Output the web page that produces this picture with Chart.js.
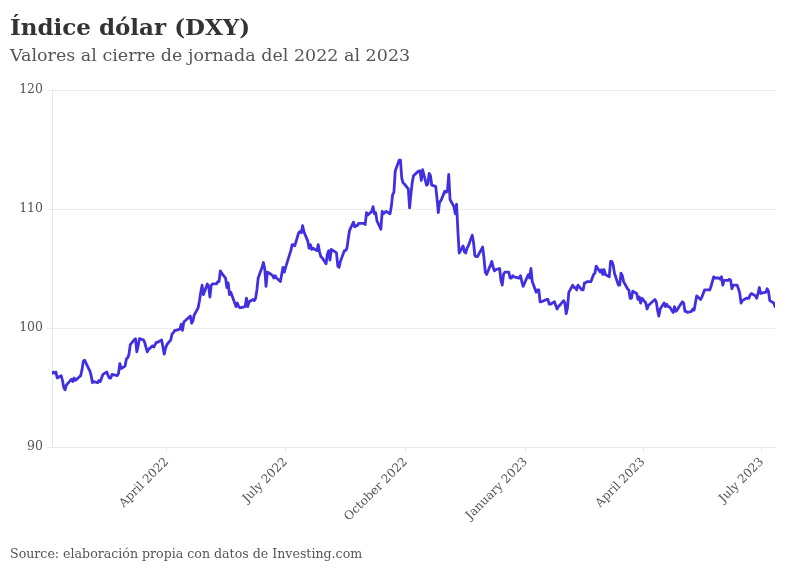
<!DOCTYPE html>
<html><head><meta charset="utf-8">
<script src="https://cdn.jsdelivr.net/npm/chart.js@4.4.0/dist/chart.umd.min.js"></script>
<style>
html,body{margin:0;padding:0;background:#fff;}
#wrap{position:relative;width:796px;height:575px;overflow:hidden;}
canvas{position:absolute;left:0;top:0;}
.t{position:absolute;left:10px;font-family:'DejaVu Serif',serif;white-space:nowrap;}
#title{top:13px;font-size:23px;font-weight:bold;color:#333;}
#sub{top:45px;font-size:17.5px;color:#555;}
#src{top:546px;font-size:12.6px;color:#555;}
</style></head><body>
<div id="wrap"><canvas id="c" width="796" height="575"></canvas>
<div class="t" id="title">Índice dólar (DXY)</div>
<div class="t" id="sub">Valores al cierre de jornada del 2022 al 2023</div>
<div class="t" id="src">Source: elaboración propia con datos de Investing.com</div>
</div>
<script>
// Trading dates (one line per month) and DXY closing values (same layout)
const dates2022 = [
 "01-03","01-04","01-05","01-06","01-07","01-10","01-11","01-12","01-13","01-14","01-18","01-19","01-20","01-21","01-24","01-25","01-26","01-27","01-28","01-31",
 "02-01","02-02","02-03","02-04","02-07","02-08","02-09","02-10","02-11","02-14","02-15","02-16","02-17","02-18","02-22","02-23","02-24","02-25","02-28",
 "03-01","03-02","03-03","03-04","03-07","03-08","03-09","03-10","03-11","03-14","03-15","03-16","03-17","03-18","03-21","03-22","03-23","03-24","03-25","03-28","03-29","03-30","03-31",
 "04-01","04-04","04-05","04-06","04-07","04-08","04-11","04-12","04-13","04-14","04-18","04-19","04-20","04-21","04-22","04-25","04-26","04-27","04-28","04-29",
 "05-02","05-03","05-04","05-05","05-06","05-09","05-10","05-11","05-12","05-13","05-16","05-17","05-18","05-19","05-20","05-23","05-24","05-25","05-26","05-27","05-31",
 "06-01","06-02","06-03","06-06","06-07","06-08","06-09","06-10","06-13","06-14","06-15","06-16","06-17","06-20","06-21","06-22","06-23","06-24","06-27","06-28","06-29","06-30",
 "07-01","07-05","07-06","07-07","07-08","07-11","07-12","07-13","07-14","07-15","07-18","07-19","07-20","07-21","07-22","07-25","07-26","07-27","07-28","07-29",
 "08-01","08-02","08-03","08-04","08-05","08-08","08-09","08-10","08-11","08-12","08-15","08-16","08-17","08-18","08-19","08-22","08-23","08-24","08-25","08-26","08-29","08-30","08-31",
 "09-01","09-02","09-05","09-06","09-07","09-08","09-09","09-12","09-13","09-14","09-15","09-16","09-19","09-20","09-21","09-22","09-23","09-26","09-27","09-28","09-29","09-30",
 "10-03","10-04","10-05","10-06","10-07","10-10","10-11","10-12","10-13","10-14","10-17","10-18","10-19","10-20","10-21","10-24","10-25","10-26","10-27","10-28","10-31",
 "11-01","11-02","11-03","11-04","11-07","11-08","11-09","11-10","11-11","11-14","11-15","11-16","11-17","11-18","11-21","11-22","11-23","11-24","11-25","11-28","11-29","11-30",
 "12-01","12-02","12-05","12-06","12-07","12-08","12-09","12-12","12-13","12-14","12-15","12-16","12-19","12-20","12-21","12-22","12-23","12-27","12-28","12-29","12-30"
];
const closes2022 = [
 96.2,96.3,96.2,96.3,95.8,96.0,95.6,95.0,94.8,95.2,95.7,95.5,95.8,95.6,95.9,96.0,96.5,97.2,97.3,96.6,
 96.4,96.0,95.4,95.5,95.4,95.6,95.5,95.8,96.1,96.3,96.0,95.8,95.8,96.1,96.0,96.2,97.0,96.6,96.8,
 97.4,97.5,97.8,98.6,99.0,99.1,98.0,98.5,99.1,99.0,98.8,98.4,98.0,98.2,98.5,98.4,98.6,98.8,98.8,99.0,98.4,97.8,98.3,
 98.6,99.0,99.5,99.6,99.8,99.8,99.9,100.3,99.8,100.5,100.9,101.0,100.4,100.6,101.1,101.7,102.3,103.0,103.6,102.8,
 103.7,103.5,102.6,103.6,103.7,103.7,103.9,103.9,104.8,104.6,104.2,103.4,103.8,102.8,103.0,102.1,101.8,102.1,101.8,101.7,101.8,
 102.5,101.8,102.2,102.4,102.3,102.5,103.2,104.2,105.1,105.5,105.0,103.5,104.7,104.5,104.4,104.2,104.4,104.2,103.9,104.5,105.1,104.7,
 105.1,106.5,107.0,107.0,106.9,108.0,108.1,108.0,108.6,108.1,107.3,106.7,107.0,106.6,106.7,106.5,107.0,106.4,106.0,105.9,
 105.4,106.2,106.5,105.7,106.6,106.4,106.3,105.2,105.1,105.6,106.5,106.5,106.7,107.5,108.2,108.9,108.5,108.6,108.6,108.8,108.8,108.8,108.7,
 109.7,109.5,109.8,110.2,109.6,109.7,109.0,108.3,109.8,109.6,109.7,109.8,109.6,110.2,111.2,111.4,113.2,114.1,114.1,112.6,112.2,112.1,
 111.7,110.1,111.2,112.2,112.8,113.1,113.2,113.2,112.4,113.3,112.0,112.1,113.0,112.8,112.0,111.9,110.9,109.7,110.6,110.7,111.5,
 111.4,111.5,112.9,110.8,110.2,109.6,110.4,108.2,106.3,106.9,106.4,106.3,106.7,106.9,107.8,107.2,106.1,106.0,106.0,106.6,106.8,105.9,
 104.7,104.5,105.3,105.6,105.1,104.8,104.9,105.0,104.0,103.6,104.5,104.7,104.7,104.2,104.2,104.4,104.3,104.2,104.4,103.9,103.5
];
const dates2023 = [
 "01-03","01-04","01-05","01-06","01-09","01-10","01-11","01-12","01-13","01-17","01-18","01-19","01-20","01-23","01-24","01-25","01-26","01-27","01-30","01-31",
 "02-01","02-02","02-03","02-06","02-07","02-08","02-09","02-10","02-13","02-14","02-15","02-16","02-17","02-20","02-21","02-22","02-23","02-24","02-27","02-28",
 "03-01","03-02","03-03","03-06","03-07","03-08","03-09","03-10","03-13","03-14","03-15","03-16","03-17","03-20","03-21","03-22","03-23","03-24","03-27","03-28","03-29","03-30","03-31",
 "04-03","04-04","04-05","04-06","04-07","04-10","04-11","04-12","04-13","04-14","04-17","04-18","04-19","04-20","04-21","04-24","04-25","04-26","04-27","04-28",
 "05-01","05-02","05-03","05-04","05-05","05-08","05-09","05-10","05-11","05-12","05-15","05-16","05-17","05-18","05-19","05-22","05-23","05-24","05-25","05-26","05-29","05-30","05-31",
 "06-01","06-02","06-05","06-06","06-07","06-08","06-09","06-12","06-13","06-14","06-15","06-16","06-19","06-20","06-21","06-22","06-23","06-26","06-27","06-28","06-29","06-30",
 "07-03","07-04","07-05","07-06","07-07","07-10","07-11"
];
const closes2023 = [
 104.5,104.2,105.0,103.9,103.0,103.2,103.2,102.2,102.2,102.4,102.4,102.0,102.0,102.2,101.9,101.6,101.8,101.9,102.3,102.1,
 101.2,101.7,103.0,103.6,103.4,103.4,103.2,103.6,103.2,103.2,103.8,103.8,103.9,103.9,104.2,104.5,104.6,105.2,104.7,104.9,
 104.5,104.9,104.5,104.3,105.6,105.6,105.3,104.6,103.6,103.6,104.6,104.4,103.9,103.3,103.2,102.5,102.5,103.1,102.9,102.4,102.6,102.1,102.5,
 102.1,101.6,101.9,102.0,102.1,102.4,102.2,101.5,101.0,101.6,102.1,101.8,102.0,101.8,101.8,101.3,101.8,101.4,101.5,101.7,
 102.2,102.1,101.4,101.4,101.3,101.4,101.6,101.5,102.1,102.7,102.4,102.6,102.9,103.2,103.2,103.2,103.5,103.9,104.3,104.2,104.2,104.1,104.3,
 103.6,104.0,104.0,104.1,104.0,103.3,103.6,103.6,103.3,102.9,102.1,102.3,102.5,102.5,102.5,102.8,102.9,102.7,102.5,102.9,103.4,102.9,
 103.0,103.0,103.3,103.1,102.3,102.1,101.8
];
const tickDates = ["2022-04-01","2022-07-01","2022-10-01","2023-01-01","2023-04-01","2023-07-01"];
const tickLabels = ["April 2022","July 2022","October 2022","January 2023","April 2023","July 2023"];
const yTicks = [90,100,110,120];

const DAY = 86400000;
const origin = Date.UTC(2022,0,3);
const toDay = s => { const p = s.split('-').map(Number); return Math.round((Date.UTC(p[0],p[1]-1,p[2]) - origin)/DAY); };
const points = [];
dates2022.forEach((d,i)=>points.push({x:toDay('2022-'+d), y:closes2022[i]}));
dates2023.forEach((d,i)=>points.push({x:toDay('2023-'+d), y:closes2023[i]}));
const tickDays = tickDates.map(toDay);
const lastDay = points[points.length-1].x;

const FONT = "'DejaVu Serif', serif";
new Chart(document.getElementById('c'), {
  type:'line',
  data:{datasets:[{data:points, borderColor:'#4130e0', borderWidth:2.8, pointRadius:0, tension:0, fill:false, borderJoinStyle:'round', borderCapStyle:'round'}]},
  options:{
    responsive:false, animation:false,
    layout:{padding:{left:10,right:21,top:90,bottom:40}},
    plugins:{legend:{display:false}, tooltip:{enabled:false}, title:{display:false}},
    scales:{
      x:{type:'linear', min:0, max:lastDay,
        afterBuildTicks:s=>{ s.ticks = tickDays.map(v=>({value:v})); },
        afterFit:s=>{ s.height = 88; },
        ticks:{autoSkip:false, minRotation:45, maxRotation:45, padding:3, color:'#555',
          font:{family:FONT, size:12},
          callback:(v)=>{ const i = tickDays.indexOf(v); return i>=0 ? tickLabels[i] : ''; }},
        grid:{drawOnChartArea:false, tickLength:5, color:'#e6e6e6'},
        border:{color:'#e6e6e6'}
      },
      y:{min:90, max:120,
        afterBuildTicks:s=>{ s.ticks = yTicks.map(v=>({value:v})); },
        afterFit:s=>{ s.width = 42; },
        ticks:{padding:4, color:'#555', font:{family:FONT, size:12.5}},
        grid:{color:'#ececec', tickLength:5},
        border:{color:'#e6e6e6'}
      }
    }
  }
});
</script>
</body></html>
